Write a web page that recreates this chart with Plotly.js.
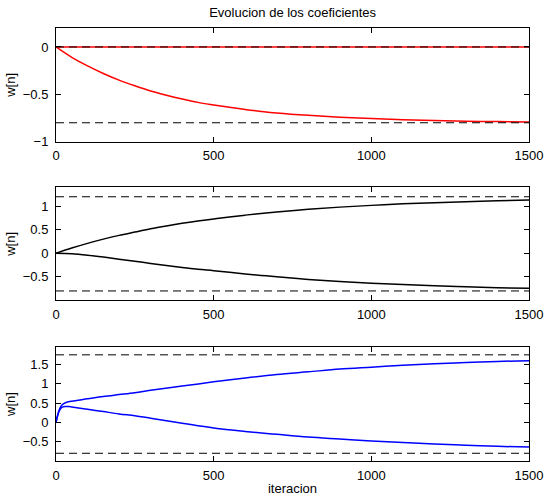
<!DOCTYPE html>
<html>
<head>
<meta charset="utf-8">
<script src="https://cdn.plot.ly/plotly-3.0.1.min.js"></script>
<style>html,body{margin:0;padding:0;background:#fff;}#chart{width:547px;height:496px;}</style>
</head>
<body>
<div id="chart"></div>
<script>
// ---- data ----
var titleText = "Evolucion de los coeficientes";
var xLabel = "iteracion";
var yLabel = "w[n]";
var xTicks = [0, 500, 1000, 1500];
var yTicks1 = [-1, -0.5, 0];
var yTicks2 = [-0.5, 0, 0.5, 1];
var yTicks3 = [-0.5, 0, 0.5, 1, 1.5];

// iterations for panels 1 and 2
var nA = [0, 50, 100, 150, 200, 250, 300, 350, 400, 450, 500, 550, 600, 650, 700, 800, 900, 1000, 1100, 1200, 1300, 1400, 1500];
// panel 1 (red)
var p1w0 = [0, 0, 0, 0, 0, 0, 0, 0, 0, 0, 0, 0, 0, 0, 0, 0, 0, 0, 0, 0, 0, 0, 0];
var p1w1 = [0, -0.11, -0.20, -0.28, -0.35, -0.41, -0.465, -0.51, -0.55, -0.585, -0.612, -0.637, -0.66, -0.68, -0.697, -0.722, -0.741, -0.756, -0.767, -0.776, -0.783, -0.788, -0.791];
var p1ref = [0, -0.8];
// panel 2 (black)
var p2w0 = [0, 0.11, 0.21, 0.30, 0.38, 0.45, 0.52, 0.58, 0.635, 0.685, 0.73, 0.772, 0.81, 0.846, 0.878, 0.934, 0.98, 1.017, 1.049, 1.075, 1.096, 1.114, 1.13];
var p2w1 = [0, -0.01, -0.04, -0.08, -0.125, -0.17, -0.215, -0.26, -0.30, -0.34, -0.37, -0.405, -0.44, -0.47, -0.50, -0.555, -0.60, -0.635, -0.665, -0.69, -0.71, -0.73, -0.745];
var p2ref = [1.2, -0.8];
// panel 3 (blue), denser near the start
var nB = [0, 5, 10, 15, 20, 30, 40, 50, 100, 150, 200, 250, 300, 400, 500, 600, 700, 800, 900, 1000, 1100, 1200, 1300, 1400, 1500];
var p3w0 = [0, 0.18, 0.32, 0.41, 0.46, 0.51, 0.535, 0.55, 0.61, 0.67, 0.72, 0.77, 0.83, 0.94, 1.05, 1.15, 1.24, 1.31, 1.38, 1.43, 1.48, 1.52, 1.55, 1.58, 1.60];
var p3w1 = [0, 0.17, 0.29, 0.36, 0.395, 0.41, 0.41, 0.40, 0.34, 0.28, 0.22, 0.17, 0.11, -0.02, -0.145, -0.235, -0.31, -0.38, -0.43, -0.48, -0.52, -0.56, -0.59, -0.62, -0.64];
var p3ref = [1.75, -0.8];

var yRanges = [[-1, 0.2], [-1, 1.4], [-1, 1.95]];

// ---- build traces ----
var traces = [];
function curve(x, y, color, ax) {
  return {x: x, y: y, type: 'scatter', mode: 'lines', xaxis: 'x' + ax, yaxis: 'y' + ax,
          line: {color: color, width: 1.5, shape: 'spline', smoothing: 1}, hoverinfo: 'skip'};
}
function refLine(v, ax) {
  return {x: [xTicks[0], xTicks[xTicks.length - 1]], y: [v, v], type: 'scatter', mode: 'lines',
          xaxis: 'x' + ax, yaxis: 'y' + ax, line: {color: '#000', width: 1, dash: '8px,5px'}, hoverinfo: 'skip'};
}
traces.push(curve(nA, p1w0, '#ff0000', ''));
traces.push(curve(nA, p1w1, '#ff0000', ''));
p1ref.forEach(function (v) { traces.push(refLine(v, '')); });
traces.push(curve(nA, p2w0, '#000000', '2'));
traces.push(curve(nA, p2w1, '#000000', '2'));
p2ref.forEach(function (v) { traces.push(refLine(v, '2')); });
traces.push(curve(nB, p3w0, '#0000ff', '3'));
traces.push(curve(nB, p3w1, '#0000ff', '3'));
p3ref.forEach(function (v) { traces.push(refLine(v, '3')); });

var font = {family: '"Liberation Sans", Arial, Helvetica, sans-serif', size: 13, color: '#000'};
function xax(anchor, withTitle) {
  var a = {anchor: anchor, domain: [0, 1], range: [0, 1500], tickvals: xTicks, ticktext: xTicks.map(String),
    showline: true, mirror: 'ticks', linecolor: '#000', linewidth: 1, ticks: 'inside', ticklen: 5,
    tickcolor: '#000', showgrid: false, zeroline: false, tickfont: font, ticklabelstandoff: 2};
  if (withTitle) a.title = {text: xLabel, font: font, standoff: 4};
  return a;
}
function yax(anchor, dom, range, tv) {
  return {anchor: anchor, domain: dom, range: range, tickvals: tv,
    showline: true, mirror: 'ticks', linecolor: '#000', linewidth: 1, ticks: 'inside', ticklen: 5,
    tickcolor: '#000', showgrid: false, zeroline: false, tickfont: font, ticklabelstandoff: 4,
    title: {text: yLabel, font: font, standoff: 4}};
}

var layout = {
  width: 547, height: 496,
  margin: {l: 56, r: 18, t: 28, b: 35},
  paper_bgcolor: '#fff', plot_bgcolor: '#fff',
  showlegend: false,
  title: {text: titleText, font: {family: font.family, size: 13, color: '#000'}, x: 0.535, xanchor: 'center', y: 0.975, yanchor: 'middle'},
  xaxis: xax('y', false),
  yaxis: yax('x', [0.7374, 1], yRanges[0], yTicks1),
  xaxis2: xax('y2', false),
  yaxis2: yax('x2', [0.371, 0.632], yRanges[1], yTicks2),
  xaxis3: xax('y3', true),
  yaxis3: yax('x3', [0, 0.263], yRanges[2], yTicks3)
};

Plotly.newPlot('chart', traces, layout, {displayModeBar: false, staticPlot: true});
</script>
</body>
</html>
